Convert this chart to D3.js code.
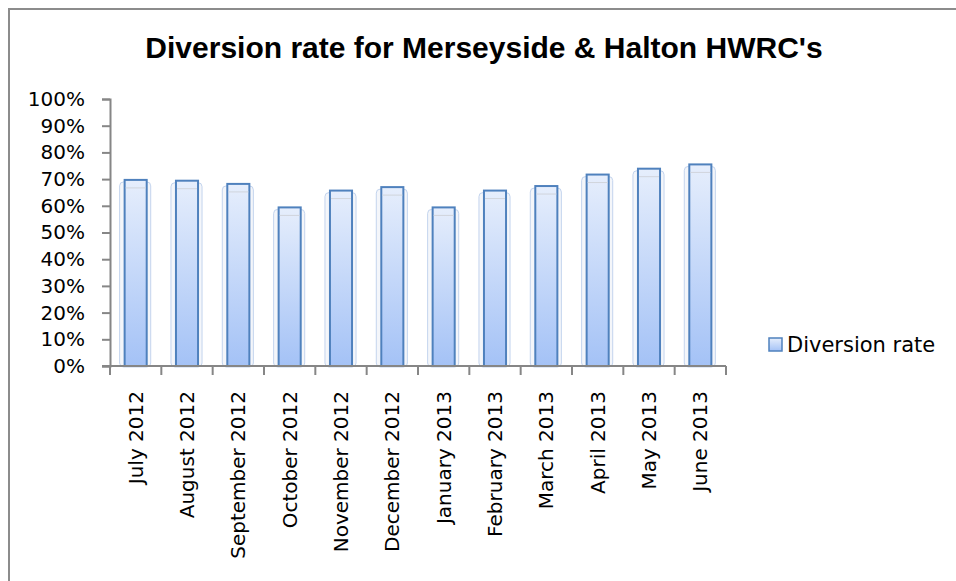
<!DOCTYPE html>
<html>
<head>
<meta charset="utf-8">
<script src="https://cdn.jsdelivr.net/npm/d3@7"></script>
<style>
  body { margin: 0; background: #fff; }
  svg text { font-family: "DejaVu Sans", "Open Sans", sans-serif; }
</style>
</head>
<body>
<svg id="chart" width="956" height="581"></svg>
<script>
// data
var months = ["July 2012", "August 2012", "September 2012", "October 2012", "November 2012",
              "December 2012", "January 2013", "February 2013", "March 2013", "April 2013",
              "May 2013", "June 2013"];
var diversionRate = [0.697, 0.694, 0.682, 0.594, 0.657, 0.670, 0.594, 0.657, 0.674, 0.717, 0.739, 0.755];
var yTicks = [0, 0.1, 0.2, 0.3, 0.4, 0.5, 0.6, 0.7, 0.8, 0.9, 1.0];
var seriesName = "Diversion rate";
var titleText = "Diversion rate for Merseyside & Halton HWRC's";

var svg = d3.select("#chart");
var plotLeft = 110, plotRight = 726, plotTop = 99, plotBottom = 366;

// outer chart frame (runs off the right and bottom edges)
svg.append("rect")
    .attr("x", 9).attr("y", 9)
    .attr("width", 960).attr("height", 590)
    .attr("fill", "#fff")
    .attr("stroke", "#8c8c8c")
    .attr("stroke-width", 2);

var defs = svg.append("defs");
var grad = defs.append("linearGradient")
    .attr("id", "barGrad").attr("x1", 0).attr("y1", 0).attr("x2", 0).attr("y2", 1);
grad.append("stop").attr("offset", "0%").attr("stop-color", "#e6eefc");
grad.append("stop").attr("offset", "100%").attr("stop-color", "#a4c2f6");

var x = d3.scaleBand().domain(months).range([plotLeft, plotRight]).paddingInner(0.57).paddingOuter(0.285);
var xb = d3.scaleBand().domain(months).range([plotLeft, plotRight]);
var y = d3.scaleLinear().domain([0, 1]).range([plotBottom, plotTop]);

svg.append("text")
    .attr("x", 484).attr("y", 58)
    .attr("text-anchor", "middle")
    .style("font-family", "'Liberation Sans', Arial, sans-serif")
    .style("font-weight", "bold")
    .style("font-size", "30px")
    .attr("fill", "#000")
    .text(titleText);

// soft glow / shadow behind each bar
svg.selectAll("rect.glow")
    .data(diversionRate)
    .enter()
    .append("rect")
    .attr("class", "glow")
    .attr("x", function(d, i) { return x(months[i]) - 5; })
    .attr("y", function(d) { return y(d) + 2; })
    .attr("width", x.bandwidth() + 9)
    .attr("height", function(d) { return plotBottom - y(d) - 1; })
    .attr("rx", 4)
    .attr("fill", "#f4f6fa")
    .attr("stroke", "#c3d4ee")
    .attr("stroke-width", 1);

svg.selectAll("rect.bar")
    .data(diversionRate)
    .enter()
    .append("rect")
    .attr("class", "bar")
    .attr("x", function(d, i) { return x(months[i]); })
    .attr("y", function(d) { return y(d); })
    .attr("width", x.bandwidth())
    .attr("height", function(d) { return plotBottom - y(d); })
    .attr("fill", "url(#barGrad)")
    .attr("stroke", "#4f81bd")
    .attr("stroke-width", 2);

// faint inner line near the top of each bar
svg.selectAll("line.inner")
    .data(diversionRate)
    .enter()
    .append("line")
    .attr("class", "inner")
    .attr("x1", function(d, i) { return x(months[i]) + 1; })
    .attr("x2", function(d, i) { return x(months[i]) + x.bandwidth() - 1; })
    .attr("y1", function(d) { return y(d) + 8; })
    .attr("y2", function(d) { return y(d) + 8; })
    .attr("stroke", "#d0d4dc")
    .attr("stroke-width", 1);

// y axis
var yAxis = d3.axisLeft(y).tickValues(yTicks).tickSize(8).tickPadding(17)
    .tickFormat(d3.format(".0%"));
var gy = svg.append("g").attr("transform", "translate(" + plotLeft + ",0)").call(yAxis);
gy.select(".domain").attr("stroke", "#868686").attr("stroke-width", 2);
gy.selectAll(".tick line").attr("stroke", "#868686").attr("stroke-width", 2);
gy.selectAll(".tick text").style("font-size", "20px").style("font-family", "'DejaVu Sans', sans-serif").attr("fill", "#000");

// x axis
var gx = svg.append("g").attr("transform", "translate(0," + plotBottom + ")");
gx.append("line")
    .attr("x1", plotLeft - 8).attr("x2", plotRight)
    .attr("stroke", "#868686").attr("stroke-width", 2);
gx.selectAll("line.tk")
    .data(months.concat(["end"]))
    .enter()
    .append("line")
    .attr("class", "tk")
    .attr("x1", function(d, i) { return plotLeft + i * xb.bandwidth(); })
    .attr("x2", function(d, i) { return plotLeft + i * xb.bandwidth(); })
    .attr("y1", 0).attr("y2", 9)
    .attr("stroke", "#868686").attr("stroke-width", 2);
gx.selectAll("text.lbl")
    .data(months)
    .enter()
    .append("text")
    .attr("class", "lbl")
    .attr("transform", function(d) {
        return "translate(" + (xb(d) + xb.bandwidth() / 2 + 7) + ",25) rotate(-90)";
    })
    .attr("text-anchor", "end")
    .style("font-size", "20px")
    .attr("fill", "#000")
    .text(function(d) { return d; });

// legend
var lg = svg.append("g").attr("transform", "translate(769,338)");
lg.append("rect")
    .attr("width", 13).attr("height", 13)
    .attr("fill", "url(#barGrad)")
    .attr("stroke", "#4f81bd").attr("stroke-width", 1.5);
lg.append("text")
    .attr("x", 18).attr("y", 14)
    .style("font-size", "21px")
    .attr("fill", "#000")
    .text(seriesName);
</script>
</body>
</html>
